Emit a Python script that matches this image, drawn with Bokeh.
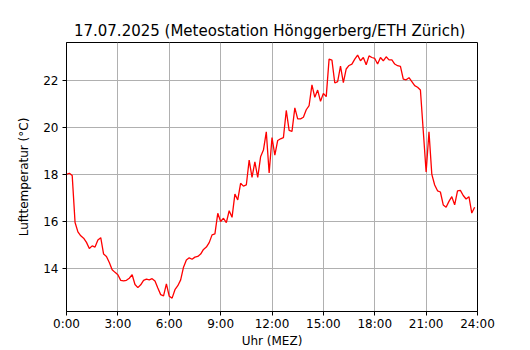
from bokeh.plotting import figure
from bokeh.models import FixedTicker, Range1d
from bokeh.embed import file_html
from bokeh.resources import INLINE

# Sample times in minutes after midnight (10-minute readings)
minutes = [i * 10 for i in range(144)]

# Air temperature (°C)
temps = [
    18.00, 18.05, 17.95, 15.95, 15.55, 15.38,   # 0h
    15.28, 15.10, 14.84, 14.95, 14.90, 15.20,   # 1h
    15.30, 14.60, 14.50, 14.24, 13.93, 13.82,   # 2h
    13.72, 13.48, 13.46, 13.48, 13.57, 13.72,   # 3h
    13.30, 13.17, 13.29, 13.48, 13.53, 13.50,   # 4h
    13.55, 13.45, 13.15, 12.87, 12.82, 13.33,   # 5h
    12.80, 12.72, 13.08, 13.25, 13.50, 14.04,   # 6h
    14.35, 14.44, 14.38, 14.47, 14.50, 14.60,   # 7h
    14.80, 14.90, 15.09, 15.42, 15.46, 16.34,   # 8h
    15.99, 16.13, 15.94, 16.45, 16.17, 17.16,   # 9h
    16.91, 17.62, 17.50, 17.55, 18.61, 17.87,   # 10h
    18.54, 17.87, 18.75, 19.04, 19.82, 18.06,   # 11h
    19.57, 18.82, 19.45, 19.52, 19.57, 20.73,   # 12h
    19.88, 19.84, 20.84, 20.37, 20.37, 20.44,   # 13h
    20.76, 20.94, 21.82, 21.29, 21.60, 21.12,   # 14h
    21.46, 21.32, 22.92, 22.88, 21.90, 21.96,   # 15h
    22.62, 21.92, 22.50, 22.65, 22.71, 22.92,   # 16h
    23.09, 22.85, 22.99, 22.68, 23.06, 22.99,   # 17h
    22.95, 22.71, 22.99, 22.85, 23.02, 22.89,   # 18h
    22.89, 22.71, 22.64, 22.61, 22.07, 22.04,   # 19h
    22.13, 21.96, 21.79, 21.72, 21.60, 19.85,   # 20h
    18.10, 19.82, 18.00, 17.55, 17.30, 17.25,   # 21h
    16.70, 16.60, 16.85, 17.05, 16.70, 17.30,   # 22h
    17.32, 17.10, 16.95, 17.05, 16.35, 16.60,   # 23h
]

x_tick_hours = [0, 3, 6, 9, 12, 15, 18, 21, 24]
x_tick_labels = ["0:00", "3:00", "6:00", "9:00", "12:00", "15:00", "18:00", "21:00", "24:00"]
y_ticks = [14, 16, 18, 20, 22]

title_text = "17.07.2025  (Meteostation Hönggerberg/ETH Zürich)"
x_label = "Uhr (MEZ)"
y_label = "Lufttemperatur (°C)"

hours = [m / 60 for m in minutes]

FONT = "DejaVu Sans"

p = figure(
    width=530, height=350,
    output_backend="svg", toolbar_location=None,
    x_range=Range1d(0, 24), y_range=Range1d(12.15, 23.63),
    min_border_left=66, min_border_right=53,
    min_border_top=42, min_border_bottom=38,
)

p.line(hours, temps, line_color="red", line_width=1.3)

# Title
p.title.text = title_text
p.title.align = "center"
p.title.text_font = FONT
p.title.text_font_size = "15px"
p.title.text_font_style = "normal"
p.title.text_color = "black"
p.title.standoff = 5

# Frame
p.outline_line_color = "black"
p.outline_line_width = 1
p.outline_line_alpha = 1
p.background_fill_color = "white"
p.border_fill_color = "white"

# Grid
for g in (p.xgrid, p.ygrid):
    g.grid_line_color = "#b0b0b0"
    g.grid_line_width = 1
p.xgrid.ticker = FixedTicker(ticks=x_tick_hours)
p.ygrid.ticker = FixedTicker(ticks=y_ticks)

# Axes
xa = p.xaxis[0]
xa.ticker = FixedTicker(ticks=x_tick_hours)
xa.major_label_overrides = {h: lab for h, lab in zip(x_tick_hours, x_tick_labels)}
xa.axis_label = x_label
ya = p.yaxis[0]
ya.ticker = FixedTicker(ticks=y_ticks)
ya.axis_label = y_label

for ax in (xa, ya):
    ax.axis_line_color = "black"
    ax.major_tick_line_color = "black"
    ax.minor_tick_line_color = None
    ax.major_tick_out = 4
    ax.major_tick_in = 0
    ax.major_label_text_font = FONT
    ax.major_label_text_font_size = "12px"
    ax.major_label_text_color = "black"
    ax.axis_label_text_font = FONT
    ax.axis_label_text_font_size = "12px"
    ax.axis_label_text_font_style = "normal"
    ax.axis_label_text_color = "black"

xa.major_label_standoff = 1
xa.axis_label_standoff = 0
ya.major_label_standoff = 4
ya.axis_label_standoff = 9

with open("out.html", "w") as f:
    f.write(file_html(p, INLINE))
